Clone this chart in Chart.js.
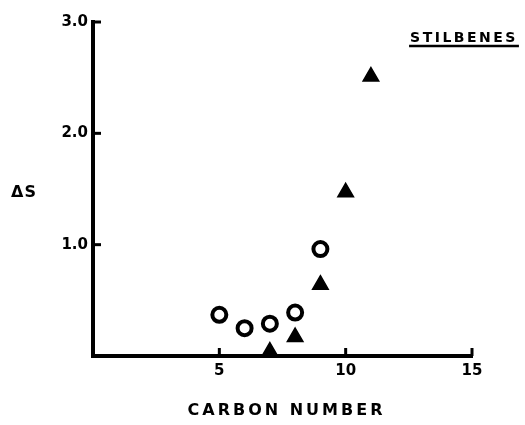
<!DOCTYPE html>
<html>
<head>
<meta charset="utf-8">
<script src="https://cdn.jsdelivr.net/npm/chart.js@4.4.1/dist/chart.umd.min.js"></script>
<style>
  html, body { margin: 0; padding: 0; background: #fff; }
  #grafico { display: block; }
</style>
</head>
<body>
<canvas id="grafico" width="525" height="425"></canvas>
<script>
// Datos
const carbonosCirculo = [5, 6, 7, 8, 9];
const deltaSCirculo = [0.37, 0.25, 0.29, 0.39, 0.96];
const carbonosTriangulo = [7, 8, 9, 10, 11];
const deltaSTriangulo = [0.04, 0.17, 0.64, 1.47, 2.51];
const ticksX = [5, 10, 15];
const ticksY = [1, 2, 3];

const tituloX = 'CARBON NUMBER';
const tituloY = 'ΔS';
const rotulo = 'STILBENES';

const negro = '#000';
const fuente = 'DejaVu Sans';

// Marcas de las escalas hacia adentro y textos sueltos
const extras = {
  id: 'extras',
  afterDraw(chart) {
    const ctx = chart.ctx;
    const x = chart.scales.x;
    const y = chart.scales.y;
    const area = chart.chartArea;
    ctx.save();
    ctx.strokeStyle = negro;
    ctx.lineWidth = 3;
    ticksX.forEach(v => {
      const px = x.getPixelForValue(v);
      ctx.beginPath();
      ctx.moveTo(px, area.bottom);
      ctx.lineTo(px, area.bottom - 8);
      ctx.stroke();
    });
    ticksY.forEach(v => {
      const py = y.getPixelForValue(v);
      ctx.beginPath();
      ctx.moveTo(area.left, py);
      ctx.lineTo(area.left + 8, py);
      ctx.stroke();
    });

    ctx.fillStyle = negro;
    ctx.textBaseline = 'middle';
    ctx.textAlign = 'center';
    ctx.font = 'bold 16px "' + fuente + '"';
    ctx.letterSpacing = '1px';
    ctx.fillText(tituloY, 24, 193);

    ctx.font = 'bold 14px "' + fuente + '"';
    ctx.letterSpacing = '2.5px';
    ctx.fillText(rotulo, 464, 38);
    const w = ctx.measureText(rotulo).width;
    ctx.lineWidth = 2.5;
    ctx.beginPath();
    ctx.moveTo(464 - w / 2 - 1, 46);
    ctx.lineTo(464 + w / 2 + 1, 46);
    ctx.stroke();

    ctx.font = 'bold 16px "' + fuente + '"';
    ctx.letterSpacing = '3px';
    ctx.fillText(tituloX, (x.left + x.right) / 2 + 4, 411);
    ctx.restore();
  }
};

new Chart(document.getElementById('grafico'), {
  type: 'scatter',
  data: {
    datasets: [
      {
        label: 'circulos',
        data: carbonosCirculo.map((c, i) => ({ x: c, y: deltaSCirculo[i] })),
        pointStyle: 'circle',
        pointRadius: 7,
        borderWidth: 4,
        borderColor: negro,
        backgroundColor: '#fff'
      },
      {
        label: 'triangulos',
        data: carbonosTriangulo.map((c, i) => ({ x: c, y: deltaSTriangulo[i] })),
        pointStyle: 'triangle',
        pointRadius: 9,
        borderWidth: 1.5,
        borderColor: negro,
        backgroundColor: negro
      }
    ]
  },
  options: {
    responsive: false,
    animation: false,
    layout: { padding: { left: 0, top: 22, right: 53, bottom: 0 } },
    plugins: {
      legend: { display: false },
      tooltip: { enabled: false }
    },
    scales: {
      x: {
        type: 'linear',
        min: 0,
        max: 15,
        afterFit: s => { s.height = 69; },
        afterBuildTicks: s => { s.ticks = ticksX.map(v => ({ value: v })); },
        grid: { display: false, drawTicks: false },
        border: { display: true, color: negro, width: 4 },
        ticks: {
          color: negro,
          padding: 6,
          font: { family: fuente, size: 15, weight: 'bold' },
          callback: v => String(v)
        }
      },
      y: {
        type: 'linear',
        min: 0,
        max: 3,
        afterFit: s => { s.width = 93; },
        afterBuildTicks: s => { s.ticks = ticksY.map(v => ({ value: v })); },
        grid: { display: false, drawTicks: false },
        border: { display: true, color: negro, width: 4 },
        ticks: {
          color: negro,
          padding: 5,
          font: { family: fuente, size: 15, weight: 'bold' },
          callback: v => v.toFixed(1)
        }
      }
    }
  },
  plugins: [extras]
});
</script>
</body>
</html>
